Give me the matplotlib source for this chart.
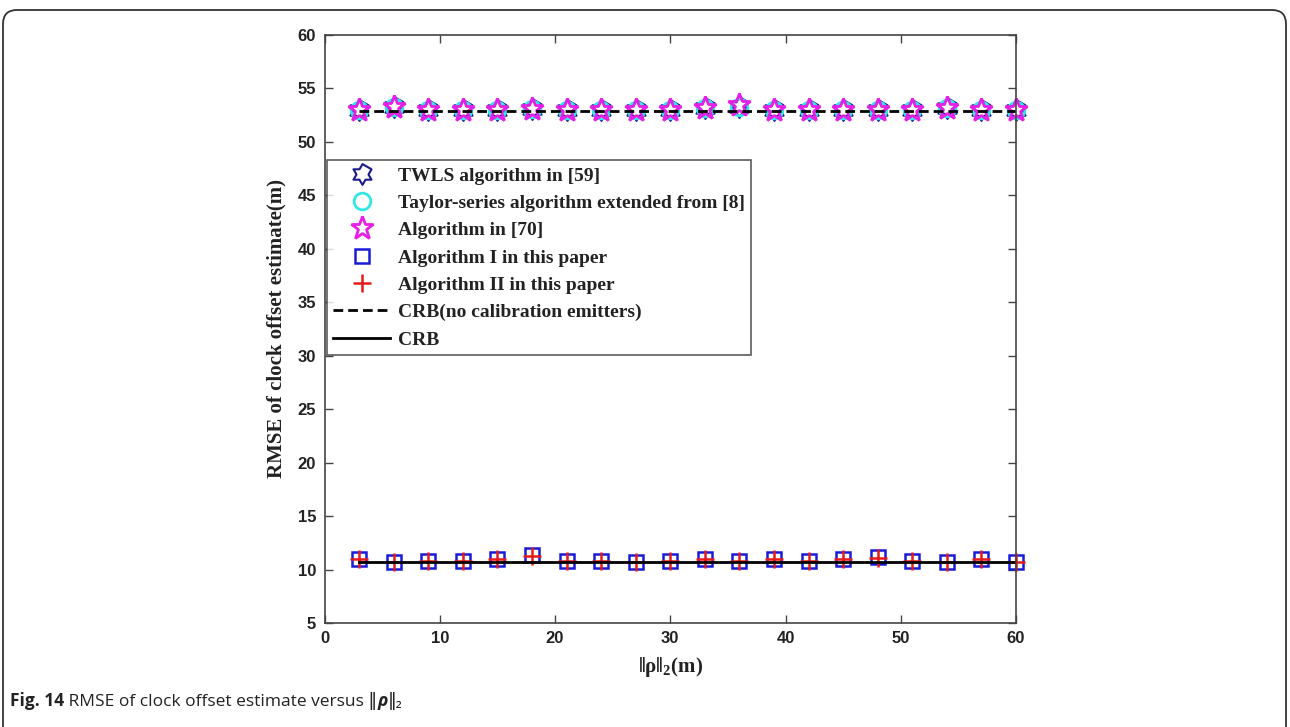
import numpy as np
import matplotlib

matplotlib.use("Agg")
import matplotlib.pyplot as plt
from matplotlib.path import Path
from matplotlib.patches import FancyBboxPatch
from matplotlib.transforms import IdentityTransform

# ||rho||_2 (m)
rho = [3, 6, 9, 12, 15, 18, 21, 24, 27, 30, 33, 36, 39, 42, 45, 48, 51, 54, 57, 60]

# RMSE of clock offset estimate (m)
twls = [53.0, 53.3, 53.0, 53.0, 53.0, 53.1, 53.0, 53.0, 53.0, 53.0,
        53.2, 53.3, 53.0, 53.0, 53.0, 53.0, 53.0, 53.2, 53.0, 53.0]
taylor = [53.0, 53.3, 53.0, 53.0, 53.0, 53.1, 53.0, 53.0, 53.0, 53.0,
          53.2, 53.3, 53.0, 53.0, 53.0, 53.0, 53.0, 53.2, 53.0, 53.0]
alg70 = [53.0, 53.3, 53.0, 53.0, 53.0, 53.1, 53.0, 53.0, 53.0, 53.0,
         53.2, 53.4, 53.0, 53.0, 53.0, 53.0, 53.0, 53.2, 53.0, 53.0]
alg1 = [11.0, 10.7, 10.8, 10.8, 11.0, 11.4, 10.8, 10.8, 10.7, 10.8,
        11.0, 10.8, 11.0, 10.8, 11.0, 11.2, 10.8, 10.7, 11.0, 10.7]
alg2 = [11.0, 10.7, 10.8, 10.8, 11.0, 11.3, 10.8, 10.8, 10.7, 10.8,
        11.0, 10.8, 11.0, 10.8, 11.0, 11.1, 10.8, 10.7, 11.0, 10.7]
crb_nocal = [52.9] * len(rho)
crb = [10.7] * len(rho)

labels = [
    "TWLS algorithm in [59]",
    "Taylor-series algorithm extended from [8]",
    "Algorithm in [70]",
    "Algorithm I in this paper",
    "Algorithm II in this paper",
    "CRB(no calibration emitters)",
    "CRB",
]

serif = ["Liberation Serif", "DejaVu Serif"]
plt.rcParams["mathtext.fontset"] = "custom"
plt.rcParams["mathtext.rm"] = "Liberation Serif:bold"
plt.rcParams["mathtext.it"] = "Liberation Serif:bold"
plt.rcParams["mathtext.bf"] = "Liberation Serif:bold"

# six-pointed star (MATLAB 'hexagram')
ang = np.deg2rad(90 + 30 * np.arange(12))
rad = np.where(np.arange(12) % 2 == 0, 1.0, 1 / np.sqrt(3))
hexagram = Path(np.column_stack([rad * np.cos(ang), rad * np.sin(ang)]), closed=True)

fig = plt.figure(figsize=(12.9, 7.27), dpi=100)
ax = fig.add_axes([0.2516, 0.143, 0.536, 0.809])

ax.plot(rho, twls, linestyle="none", marker=hexagram, ms=15, mfc="none",
        mec="#1a1a8c", mew=1.5, label=labels[0], clip_on=False)
ax.plot(rho, taylor, linestyle="none", marker="o", ms=12, mfc="none",
        mec="#33e6e6", mew=2, label=labels[1], clip_on=False)
ax.plot(rho, alg70, linestyle="none", marker="*", ms=17, mfc="none",
        mec="#e61ee6", mew=2, label=labels[2], clip_on=False)
ax.plot(rho, alg1, linestyle="none", marker="s", ms=10, mfc="none",
        mec="#1a1ad9", mew=1.8, label=labels[3], clip_on=False)
ax.plot(rho, alg2, linestyle="none", marker="+", ms=13, mec="#e61a1a",
        mew=1.8, label=labels[4], clip_on=False)
ax.plot(rho, crb_nocal, color="black", lw=2, linestyle=(0, (3.5, 1.8)),
        label=labels[5])
ax.plot(rho, crb, color="black", lw=2, label=labels[6])

ax.set_xlim(0, 60)
ax.set_ylim(5, 60)
ax.set_xticks(np.arange(0, 61, 10))
ax.set_yticks(np.arange(5, 61, 5))
ax.tick_params(direction="in", top=True, right=True, length=6, width=1,
               colors="#444444", labelcolor="#222222", pad=6)
for lab in ax.get_xticklabels() + ax.get_yticklabels():
    lab.set_family(["Liberation Sans Narrow", "Liberation Sans"])
    lab.set_fontweight("bold")
    lab.set_fontsize(12)
for sp in ax.spines.values():
    sp.set_color("#444444")
    sp.set_linewidth(1.2)

ax.set_ylabel("RMSE of clock offset estimate(m)", family=serif,
              fontweight="bold", fontsize=15, color="#222222", labelpad=8)
ax.set_xlabel(r"$\Vert\rho\Vert_{2}\mathrm{(m)}$", fontsize=15,
              color="#222222", labelpad=6)

leg = ax.legend(loc="upper left", bbox_to_anchor=(0.003, 0.787),
                borderaxespad=0, fancybox=False, edgecolor="#333333",
                prop={"family": serif, "weight": "bold", "size": 14},
                handlelength=2.9, handletextpad=0.4, labelspacing=0.5,
                borderpad=0.35)
leg.get_frame().set_linewidth(1.2)
for t in leg.get_texts():
    t.set_color("#222222")

# rounded page frame
frame = FancyBboxPatch((3, -20), 1283, 737,
                       boxstyle="round,pad=0,rounding_size=14",
                       transform=IdentityTransform(), fill=False,
                       edgecolor="#333333", linewidth=1.3)
fig.add_artist(frame)

# caption built from consecutive pieces
caption = [
    ("Fig. 14", "bold", "normal"),
    (" RMSE of clock offset estimate versus \u2016", "normal", "normal"),
    ("\u03c1", "bold", "italic"),
    ("\u2016\u2082", "normal", "normal"),
]
renderer = fig.canvas.get_renderer()
xpos = 10 / 1290
for txt, weight, style in caption:
    t = fig.text(xpos, 0.029, txt, fontsize=12.5, fontweight=weight,
                 fontstyle=style, family=["Open Sans", "DejaVu Sans"],
                 color="#222222", va="baseline")
    bb = t.get_window_extent(renderer)
    xpos += bb.width / fig.bbox.width

fig.savefig("out.png", dpi=100)
